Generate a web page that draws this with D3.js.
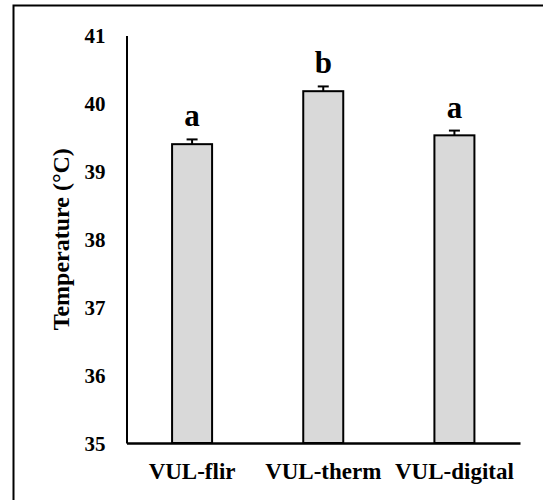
<!DOCTYPE html>
<html>
<head>
<meta charset="utf-8">
<script src="https://cdn.jsdelivr.net/npm/d3@7"></script>
<style>
  html, body { margin: 0; padding: 0; background: #fff; }
  svg { display: block; }
</style>
</head>
<body>
<script>
const categories = ["VUL-flir", "VUL-therm", "VUL-digital"];
const means = [39.40, 40.18, 39.53];
const errors = [0.07, 0.07, 0.07];
const letters = ["a", "b", "a"];
const yTicks = [35, 36, 37, 38, 39, 40, 41];

const FONT = "Liberation Serif";
const W = 543, H = 500;
const svg = d3.select("body").append("svg").attr("width", W).attr("height", H);

// outer frame (extends past the bottom/right edges)
svg.append("rect")
  .attr("x", 13.5).attr("y", 5.5)
  .attr("width", 560).attr("height", 520)
  .attr("fill", "none").attr("stroke", "#000").attr("stroke-width", 2);

const x0 = 126.5, x1 = 520, yTop = 35.5, yBot = 443;
const x = d3.scaleBand().domain(categories).range([x0, x1])
  .paddingInner(0.695).paddingOuter(0.3475);
const y = d3.scaleLinear().domain([35, 41]).range([yBot, yTop]);

// bars
svg.selectAll("rect.bar").data(categories).join("rect")
  .attr("class", "bar")
  .attr("x", d => x(d))
  .attr("width", x.bandwidth())
  .attr("y", (d, i) => y(means[i]))
  .attr("height", (d, i) => y(35) - y(means[i]))
  .attr("fill", "#d9d9d9")
  .attr("stroke", "#000")
  .attr("stroke-width", 2);

// error bars
const cx = d => x(d) + x.bandwidth() / 2;
const eb = svg.append("g").attr("stroke", "#000").attr("stroke-width", 2);
categories.forEach((c, i) => {
  eb.append("line").attr("x1", cx(c)).attr("x2", cx(c))
    .attr("y1", y(means[i])).attr("y2", y(means[i] + errors[i]));
  eb.append("line").attr("x1", cx(c) - 5.5).attr("x2", cx(c) + 5.5)
    .attr("y1", y(means[i] + errors[i])).attr("y2", y(means[i] + errors[i]));
});

// significance letters
svg.selectAll("text.sig").data(categories).join("text")
  .attr("class", "sig")
  .attr("x", d => cx(d))
  .attr("y", (d, i) => y(means[i] + errors[i]) - 13)
  .attr("text-anchor", "middle")
  .attr("font-family", FONT).attr("font-weight", "bold")
  .attr("font-size", 31)
  .text((d, i) => letters[i]);

// y axis
const yAxis = d3.axisLeft(y).tickValues(yTicks).tickSize(0).tickPadding(21)
  .tickFormat(d3.format("d"));
const gy = svg.append("g").attr("transform", `translate(${x0},0)`).call(yAxis);
gy.select(".domain").attr("stroke", "#000").attr("stroke-width", 2);
gy.selectAll(".tick text")
  .attr("font-family", FONT).attr("font-weight", "bold").attr("font-size", 21)
  .attr("fill", "#000").attr("dy", "0.34em");

// x axis
const xAxis = d3.axisBottom(x).tickSize(0).tickPadding(0);
const gx = svg.append("g").attr("transform", `translate(0,${yBot})`).call(xAxis);
gx.select(".domain").attr("stroke", "#000").attr("stroke-width", 2.5);
gx.selectAll(".tick text")
  .attr("font-family", FONT).attr("font-weight", "bold").attr("font-size", 23)
  .attr("fill", "#000").attr("dy", 0).attr("y", 36);

// y axis title
svg.append("text")
  .attr("transform", `translate(69,${(yTop + yBot) / 2}) rotate(-90)`)
  .attr("text-anchor", "middle")
  .attr("font-family", FONT).attr("font-weight", "bold")
  .attr("font-size", 24)
  .text("Temperature (°C)");
</script>
</body>
</html>
